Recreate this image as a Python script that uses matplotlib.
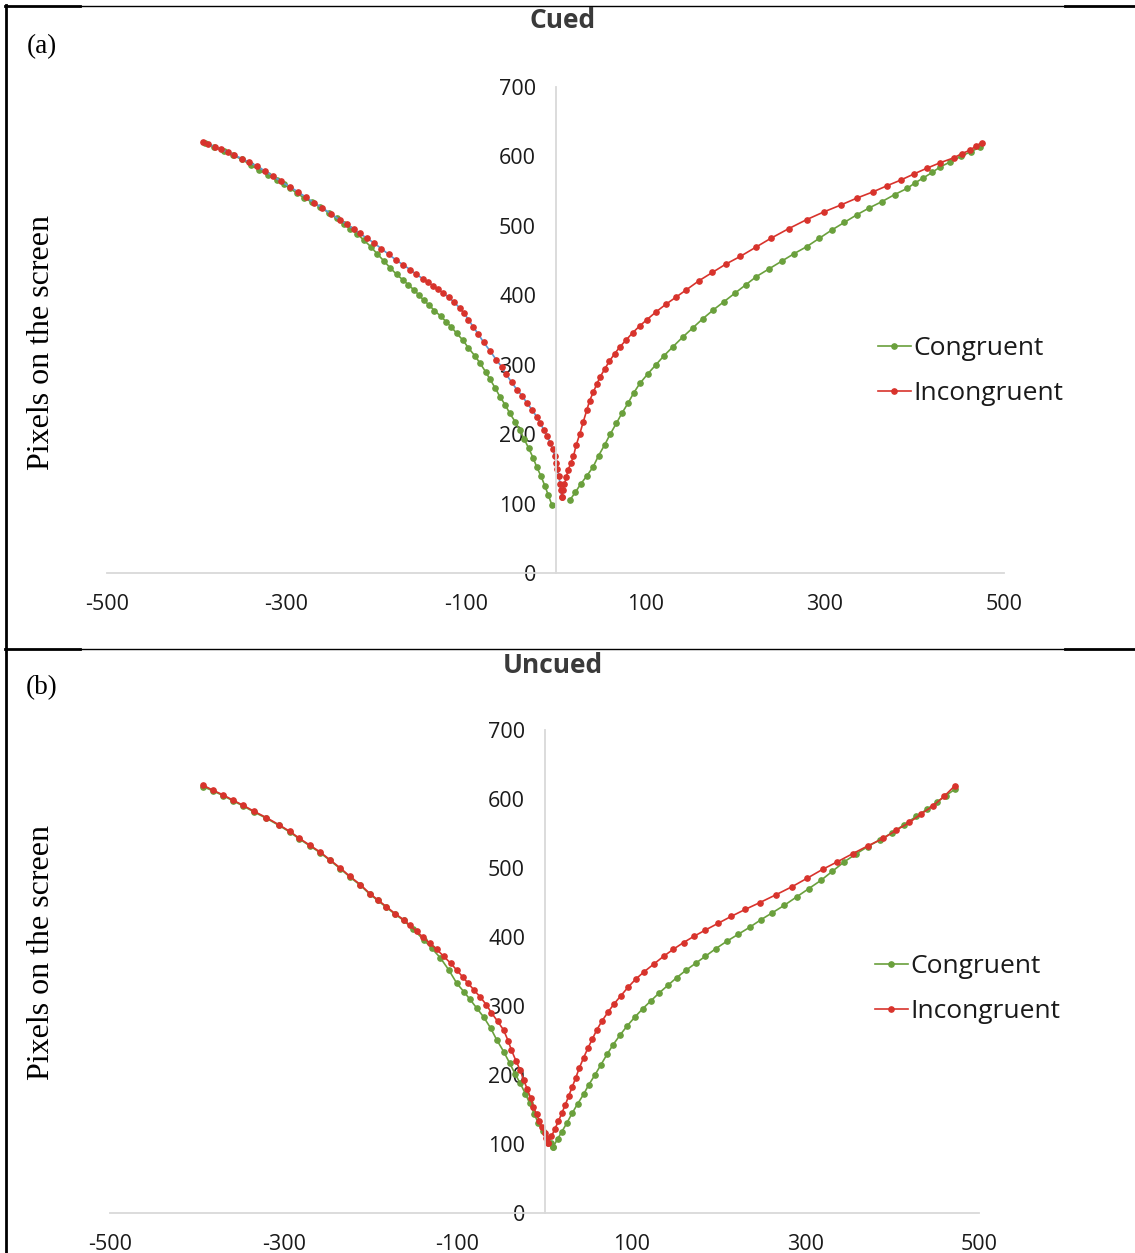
import matplotlib
matplotlib.use("Agg")
import matplotlib.pyplot as plt
from matplotlib.lines import Line2D

plt.rcParams["axes.unicode_minus"] = False

# ---------------- data ----------------
xticks = [-500, -300, -100, 100, 300, 500]
yticks = [0, 100, 200, 300, 400, 500, 600, 700]

# Panel (a) Cued
cued_con_left_x = [-391, -381, -370, -360, -350, -340, -330, -320, -310, -303,
                   -296, -288, -280, -271, -262, -253, -244, -236, -229, -221,
                   -214, -206, -199, -191, -184, -177, -170, -164, -158, -152,
                   -147, -141, -135, -128, -122, -116, -110, -103, -97, -90,
                   -84, -78, -73, -67, -62, -56, -51, -45, -40, -35,
                   -30, -25, -21, -16, -12, -8, -4]
cued_con_left_y = [620, 614, 608, 602, 596, 588, 580, 573, 566, 560,
                   554, 547, 540, 534, 527, 519, 511, 503, 496, 488,
                   480, 470, 460, 449, 439, 430, 422, 415, 408, 400,
                   393, 386, 378, 370, 362, 354, 345, 335, 324, 313,
                   302, 290, 279, 266, 254, 242, 230, 218, 206, 193,
                   180, 166, 153, 139, 126, 112, 98]
cued_con_right_x = [16, 22, 28, 35, 42, 48, 55, 61, 68, 74,
                    81, 87, 94, 103, 112, 121, 131, 142, 153, 164,
                    176, 188, 200, 212, 224, 238, 252, 266, 280, 294,
                    308, 322, 336, 350, 364, 378, 392, 401, 410, 420,
                    429, 440, 452, 463, 473]
cued_con_right_y = [105, 116, 128, 140, 153, 169, 185, 200, 216, 230,
                    245, 259, 273, 287, 300, 313, 326, 340, 353, 366,
                    379, 391, 403, 415, 427, 438, 449, 460, 470, 482,
                    494, 505, 516, 526, 535, 545, 554, 562, 569, 577,
                    585, 592, 600, 607, 613]
cued_inc_left_x = [-393, -387, -380, -373, -365, -358, -350, -342, -333, -324,
                   -315, -306, -296, -287, -278, -269, -260, -250, -240, -232,
                   -225, -218, -210, -202, -194, -186, -178, -170, -162, -155,
                   -148, -142, -137, -131, -125, -119, -113, -107, -102, -97,
                   -92, -86, -80, -73, -66, -60, -55, -49, -43, -37,
                   -32, -26, -21, -17, -13, -9, -6, -3, -1, 1,
                   2, 4, 5, 6, 7]
cued_inc_left_y = [621, 618, 614, 610, 606, 602, 597, 592, 586, 579,
                   572, 564, 556, 549, 541, 533, 526, 517, 508, 502,
                   495, 489, 482, 475, 467, 459, 451, 444, 437, 430,
                   424, 419, 414, 409, 403, 397, 390, 382, 374, 365,
                   355, 344, 332, 320, 307, 297, 286, 275, 264, 255,
                   245, 235, 225, 216, 206, 197, 187, 178, 168, 159,
                   150, 139, 128, 119, 110]
cued_inc_right_x = [7, 8, 10, 12, 14, 17, 20, 23, 27, 31,
                    35, 38, 42, 46, 50, 55, 60, 66, 72, 79,
                    86, 94, 102, 112, 123, 134, 146, 160, 175, 190,
                    206, 223, 240, 260, 280, 299, 318, 336, 354, 370,
                    385, 400, 414, 429, 444, 453, 462, 469, 475]
cued_inc_right_y = [110, 119, 128, 138, 148, 158, 168, 184, 200, 218,
                    235, 248, 260, 272, 283, 294, 305, 316, 326, 336,
                    346, 356, 365, 376, 387, 397, 408, 421, 433, 445,
                    456, 469, 482, 496, 509, 520, 530, 540, 549, 558,
                    566, 575, 583, 591, 598, 604, 609, 615, 620]

# Panel (b) Uncued
unc_con_left_x = [-393, -382, -370, -358, -347, -334, -320, -306, -293, -282,
                  -270, -258, -247, -235, -224, -212, -201, -192, -182, -172,
                  -162, -151, -139, -130, -120, -110, -101, -93, -86, -78,
                  -70, -62, -55, -47, -40, -34, -28, -22, -17, -12,
                  -7, -2, 3, 7, 10]
unc_con_left_y = [618, 612, 605, 597, 590, 581, 572, 562, 552, 542,
                  532, 522, 511, 499, 487, 475, 462, 453, 443, 433,
                  424, 411, 396, 384, 370, 352, 333, 321, 310, 297,
                  284, 268, 251, 234, 217, 202, 188, 173, 159, 144,
                  130, 119, 108, 101, 96]
unc_con_right_x = [10, 15, 20, 26, 32, 38, 45, 51, 58, 65,
                   72, 79, 87, 95, 104, 113, 122, 132, 142, 152,
                   163, 174, 185, 197, 210, 223, 236, 249, 262, 276,
                   290, 304, 318, 331, 345, 358, 372, 386, 400, 414,
                   428, 440, 452, 462, 472]
unc_con_right_y = [96, 107, 118, 131, 145, 158, 172, 186, 200, 215,
                   230, 244, 258, 271, 284, 296, 307, 319, 330, 341,
                   352, 362, 372, 383, 394, 404, 414, 425, 435, 446,
                   458, 470, 482, 495, 509, 520, 531, 541, 551, 563,
                   575, 585, 596, 605, 614]
unc_inc_left_x = [-393, -382, -370, -358, -347, -334, -320, -306, -293, -282,
                  -270, -258, -247, -235, -224, -212, -201, -192, -182, -172,
                  -162, -155, -147, -140, -132, -124, -116, -108, -101, -94,
                  -88, -81, -74, -67, -61, -54, -47, -42, -38, -33,
                  -28, -24, -20, -16, -13, -9, -6, -3, 0, 2,
                  4]
unc_inc_left_y = [620, 613, 606, 598, 591, 582, 573, 563, 553, 543,
                  533, 523, 512, 500, 488, 476, 463, 454, 444, 434,
                  425, 417, 408, 400, 391, 382, 372, 362, 352, 342,
                  333, 323, 313, 302, 290, 278, 265, 250, 236, 221,
                  207, 193, 180, 167, 154, 143, 133, 124, 116, 108,
                  101]
unc_inc_right_x = [4, 8, 12, 16, 20, 24, 28, 32, 36, 40,
                   45, 50, 55, 60, 66, 73, 80, 88, 96, 105,
                   115, 126, 137, 148, 160, 172, 185, 200, 215, 231,
                   248, 266, 285, 302, 320, 337, 355, 372, 390, 405,
                   420, 433, 447, 460, 472]
unc_inc_right_y = [101, 111, 122, 133, 145, 157, 170, 183, 196, 210,
                   225, 239, 252, 265, 278, 291, 303, 315, 327, 339,
                   350, 361, 372, 382, 392, 401, 410, 420, 430, 440,
                   450, 461, 473, 485, 498, 509, 521, 532, 543, 555,
                   566, 578, 590, 604, 619]

series_names = ["Congruent", "Incongruent"]

# ---------------- style ----------------
W, H = 1135, 1253
GREEN = "#6AA03C"
RED = "#D8332C"
BLUE = "#5B9BD5"
AXC = "#D9D9D9"
TXT = "#1A1A1A"
SANS = ["Open Sans", "DejaVu Sans"]
SERIF = ["Liberation Serif", "DejaVu Serif"]
MS = 3.8
LW = 1.2

fig = plt.figure(figsize=(W / 100, H / 100), dpi=100)


def fx(px):
    return px / W


def fy(py):
    return 1 - py / H


def make_panel(box, title, title_xy, tag_xy, ylab_xy, leg_xy, series, blue_left=False):
    l, r, t, b = box
    ax = fig.add_axes([fx(l), fy(b), fx(r) - fx(l), fy(t) - fy(b)])
    ax.set_xlim(-500, 500)
    ax.set_ylim(0, 700)
    ax.set_xticks(xticks)
    ax.set_yticks(yticks)
    for s in ["top", "right"]:
        ax.spines[s].set_visible(False)
    ax.spines["left"].set_position(("data", 0))
    for s in ["left", "bottom"]:
        ax.spines[s].set_color(AXC)
        ax.spines[s].set_linewidth(1.3)
    ax.tick_params(axis="both", length=0, labelsize=15.5, labelcolor=TXT)
    ax.tick_params(axis="x", pad=15)
    ax.tick_params(axis="y", pad=14)
    for lab in ax.get_xticklabels() + ax.get_yticklabels():
        lab.set_family(SANS)
    ax.patch.set_alpha(0)

    (cl_x, cl_y, cr_x, cr_y, il_x, il_y, ir_x, ir_y) = series
    kw = dict(marker="o", markersize=MS, linewidth=LW, clip_on=False)
    ax.plot(cl_x, cl_y, color=GREEN, **kw)
    ax.plot(cr_x, cr_y, color=GREEN, **kw)
    if blue_left:
        ax.plot(il_x, il_y, color=BLUE, markerfacecolor=RED, markeredgecolor=RED, **kw)
    else:
        ax.plot(il_x, il_y, color=RED, **kw)
    ax.plot(ir_x, ir_y, color=RED, **kw)

    handles = [Line2D([0], [0], color=GREEN, marker="o", markersize=MS, linewidth=LW),
               Line2D([0], [0], color=RED, marker="o", markersize=MS, linewidth=LW)]
    fig.legend(handles, series_names, loc="upper left",
               bbox_to_anchor=(fx(leg_xy[0]), fy(leg_xy[1])), frameon=False,
               prop={"family": SANS, "size": 19}, handlelength=1.25, handletextpad=0.1,
               labelspacing=0.75, borderaxespad=0, borderpad=0, numpoints=1, labelcolor=TXT)

    fig.text(fx(title_xy[0]), fy(title_xy[1]), title, ha="center", va="center",
             fontsize=19, fontweight="bold", family=SANS, color="#3A3A3A")
    fig.text(fx(tag_xy[0]), fy(tag_xy[1]), tag_xy[2], ha="center", va="center",
             fontsize=19.5, family=SERIF, color="black")
    fig.text(fx(ylab_xy[0]), fy(ylab_xy[1]), "Pixels on the screen", ha="center", va="center",
             rotation=90, fontsize=23, family=SERIF, color="black")
    return ax


make_panel((107, 1004, 87, 573), "Cued", (563, 20), (42, 47, "(a)"), (42, 342), (878, 336),
           (cued_con_left_x, cued_con_left_y, cued_con_right_x, cued_con_right_y,
            cued_inc_left_x, cued_inc_left_y, cued_inc_right_x, cued_inc_right_y), blue_left=True)
make_panel((110, 979, 730, 1213), "Uncued", (553, 665), (42, 688, "(b)"), (42, 953), (875, 954),
           (unc_con_left_x, unc_con_left_y, unc_con_right_x, unc_con_right_y,
            unc_inc_left_x, unc_inc_left_y, unc_inc_right_x, unc_inc_right_y))


# table-like frame lines
def hline(y, x0, x1, lw):
    fig.add_artist(Line2D([fx(x0), fx(x1)], [fy(y), fy(y)], color="black", linewidth=lw,
                          transform=fig.transFigure))


for yy in (5.5, 648.5):
    hline(yy, 5, 80, 2.0)
    hline(yy, 80, 1065, 1.0)
    hline(yy, 1065, 1135, 2.0)
fig.add_artist(Line2D([fx(6), fx(6)], [fy(4.5), fy(1253)], color="black", linewidth=2.0,
                      transform=fig.transFigure))

fig.savefig("out.png", dpi=100, facecolor="white")
